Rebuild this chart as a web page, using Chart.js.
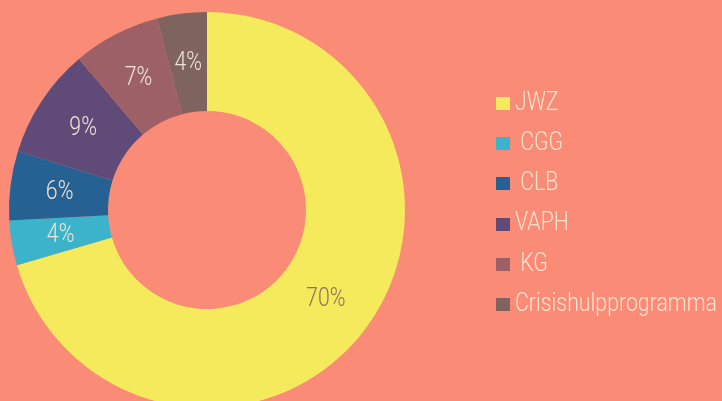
<!DOCTYPE html>
<html>
<head>
<meta charset="utf-8">
<script src="https://cdn.jsdelivr.net/npm/chart.js@4.4.1/dist/chart.umd.min.js"></script>
<style>
  html, body { margin: 0; padding: 0; background: #f98b77; overflow: hidden; }
  #wrap { position: relative; width: 722px; height: 420px; }
</style>
</head>
<body>
<div id="wrap"><canvas id="chartSteun"></canvas></div>
<script>
const labels = ['JWZ', ' CGG', ' CLB', 'VAPH', ' KG', 'Crisishulpprogramma'];
const values = [70.5, 3.65, 5.65, 9.0, 7.15, 4.05];
const percentLabels = ['70%', '4%', '6%', '9%', '7%', '4%'];
const colors = ['#f4ea5c', '#3bb4cb', '#256193', '#604a78', '#9e6067', '#7e635e'];
const labelColors = ['#8c7262', '#efe3d8', '#efe3d8', '#efe3d8', '#efe3d8', '#efe3d8'];

const FONT = '300 25px Roboto, "DejaVu Sans Condensed", sans-serif';
let squeeze = 0.8;

// percentages inside the slices
const sliceLabels = {
    id: 'sliceLabels',
    afterDatasetsDraw(chart) {
        const ctx = chart.ctx;
        const meta = chart.getDatasetMeta(0);
        ctx.save();
        ctx.font = FONT;
        ctx.textAlign = 'center';
        ctx.textBaseline = 'middle';
        meta.data.forEach((arc, i) => {
            const p = arc.tooltipPosition();
            ctx.save();
            ctx.translate(p.x, p.y);
            ctx.scale(squeeze, 1);
            ctx.fillStyle = labelColors[i];
            ctx.fillText(percentLabels[i], 0, 1);
            ctx.restore();
        });
        ctx.restore();
    }
};

// legend on the right, small gap between box and text
const sideLegend = {
    id: 'sideLegend',
    afterDraw(chart) {
        const ctx = chart.ctx;
        const x = 496, top = 103.5, row = 40.2, boxW = 14, boxH = 13;
        ctx.save();
        ctx.font = FONT;
        ctx.textBaseline = 'middle';
        chart.data.labels.forEach((lab, i) => {
            const y = top + i * row;
            ctx.fillStyle = chart.data.datasets[0].backgroundColor[i];
            ctx.fillRect(x, Math.round(y - boxH / 2), boxW, boxH);
            ctx.save();
            ctx.translate(x + boxW + 5, y);
            ctx.scale(squeeze, 1);
            ctx.fillStyle = '#ffe2cc';
            ctx.fillText(lab, 0, 0);
            ctx.restore();
        });
        ctx.restore();
    }
};

function drawChart() {
    const m = document.createElement('canvas').getContext('2d');
    m.font = FONT;
    squeeze = 202 / m.measureText('Crisishulpprogramma').width;

    new Chart(document.getElementById('chartSteun'), {
        type: 'doughnut',
        data: {
            labels: labels,
            datasets: [{
                data: values,
                backgroundColor: colors,
                borderWidth: 0
            }]
        },
        options: {
            responsive: true,
            maintainAspectRatio: false,
            animation: false,
            cutout: '50%',
            layout: { padding: { left: 9, top: 12, right: 317, bottom: 12 } },
            plugins: {
                legend: { display: false },
                tooltip: { enabled: false }
            }
        },
        plugins: [sliceLabels, sideLegend]
    });
}

document.fonts.load(FONT).then(drawChart, drawChart);
</script>
</body>
</html>
